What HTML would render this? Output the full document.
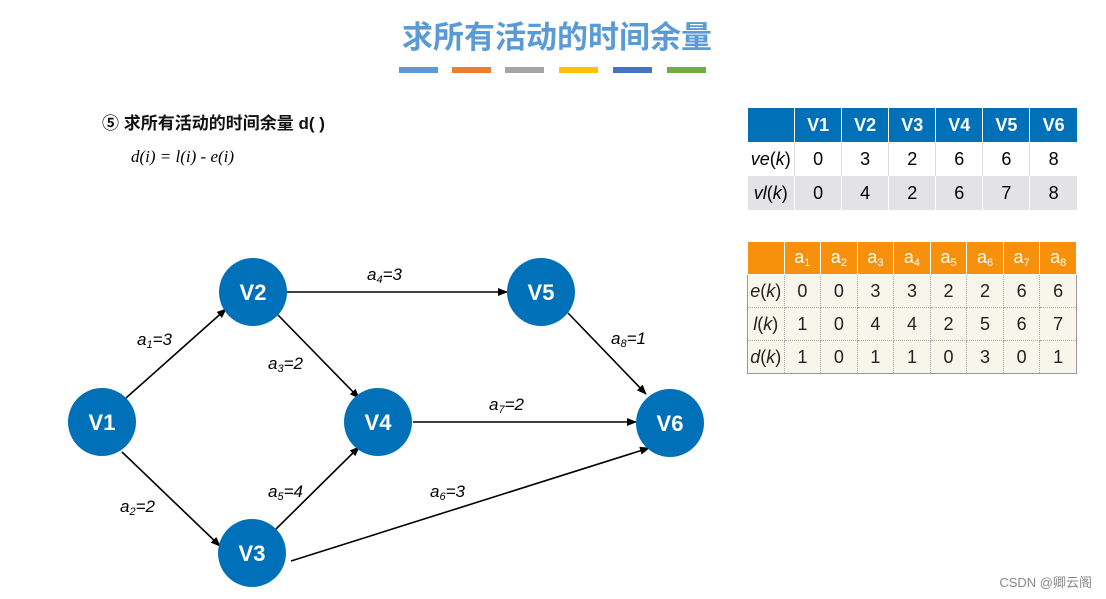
<!DOCTYPE html>
<html><head><meta charset="utf-8"><style>
body{margin:0;width:1106px;height:599px;background:#fff;position:relative;overflow:hidden;font-family:"Liberation Sans","Noto Sans CJK SC",sans-serif}
.t{position:absolute}
table{border-collapse:collapse;position:absolute;font-family:"Liberation Sans",sans-serif;table-layout:fixed}
#t1{width:330px}
#t1 td{height:34px;text-align:center;font-size:18px;padding:0;border-left:1px solid #fff}
#t1 tr.h td{background:#0070b8;color:#fff;font-weight:bold}
#t1 tr.r1 td{background:#fff;border-left:1px solid #ddd}
#t1 tr.r2 td{background:#e3e3e6;border-left:1px solid #fff}
#t2{border:1px solid #999;width:330px}
#t2 td{height:32px;text-align:center;font-size:18px;padding:0;background:#f8f5ea;border:1px dotted #aaa;color:#222}
#t2 tr.h td{background:#f7910c;color:#fff;border:1px solid #fff}
sub{font-size:11px;vertical-align:-3px}
</style></head><body>
<div class="t" style="left:0;width:1114px;top:12px;text-align:center;font-size:31px;font-weight:bold;color:#5b9bd5;">求所有活动的时间余量</div>
<div class="t" style="top:67px;left:399px;width:39px;height:6px;background:#5b9bd5"></div>
<div class="t" style="top:67px;left:452px;width:39px;height:6px;background:#ed7d31"></div>
<div class="t" style="top:67px;left:505px;width:39px;height:6px;background:#a5a5a5"></div>
<div class="t" style="top:67px;left:559px;width:39px;height:6px;background:#ffc000"></div>
<div class="t" style="top:67px;left:613px;width:39px;height:6px;background:#4472c4"></div>
<div class="t" style="top:67px;left:667px;width:39px;height:6px;background:#70ad47"></div>
<div class="t" style="left:102px;top:109px;font-size:17px;font-weight:bold;color:#111">⑤ 求所有活动的时间余量 d( )</div>
<div class="t" style="left:131px;top:147px;font-size:17px;font-style:italic;font-family:'Liberation Serif',serif">d(i) = l(i) - e(i)</div>
<table id="t1" style="left:747px;top:108px">
<tr class="h"><td></td><td>V1</td><td>V2</td><td>V3</td><td>V4</td><td>V5</td><td>V6</td></tr>
<tr class="r1"><td style="border-left:none"><i>ve</i>(<i>k</i>)</td><td>0</td><td>3</td><td>2</td><td>6</td><td>6</td><td>8</td></tr>
<tr class="r2"><td style="border-left:none"><i>vl</i>(<i>k</i>)</td><td>0</td><td>4</td><td>2</td><td>6</td><td>7</td><td>8</td></tr>
</table>
<table id="t2" style="left:747px;top:241px">
<tr class="h"><td></td><td>a<sub>1</sub></td><td>a<sub>2</sub></td><td>a<sub>3</sub></td><td>a<sub>4</sub></td><td>a<sub>5</sub></td><td>a<sub>6</sub></td><td>a<sub>7</sub></td><td>a<sub>8</sub></td></tr>
<tr><td><i>e</i>(<i>k</i>)</td><td>0</td><td>0</td><td>3</td><td>3</td><td>2</td><td>2</td><td>6</td><td>6</td></tr>
<tr><td><i>l</i>(<i>k</i>)</td><td>1</td><td>0</td><td>4</td><td>4</td><td>2</td><td>5</td><td>6</td><td>7</td></tr>
<tr><td><i>d</i>(<i>k</i>)</td><td>1</td><td>0</td><td>1</td><td>1</td><td>0</td><td>3</td><td>0</td><td>1</td></tr>
</table>
<svg class="t" style="left:0;top:0" width="1106" height="599">
<defs><marker id="a" markerWidth="10" markerHeight="8" refX="9" refY="4" orient="auto" markerUnits="userSpaceOnUse"><path d="M0,0 L10,4 L0,8 z" fill="#000"/></marker></defs>
<g stroke="#000" stroke-width="1.6" marker-end="url(#a)">
<line x1="126" y1="398" x2="226" y2="309"/>
<line x1="122" y1="452" x2="220" y2="546"/>
<line x1="278" y1="315" x2="359" y2="398"/>
<line x1="275" y1="530" x2="359" y2="447"/>
<line x1="287" y1="292" x2="507" y2="292"/>
<line x1="413" y1="422" x2="636" y2="422"/>
<line x1="568" y1="313" x2="646" y2="394"/>
<line x1="291" y1="561" x2="649" y2="448"/>
</g>
<g fill="#0070b8">
<circle cx="102" cy="422" r="34"/><circle cx="253" cy="292" r="34"/><circle cx="252" cy="553" r="34"/>
<circle cx="378" cy="422" r="34"/><circle cx="541" cy="292" r="34"/><circle cx="670" cy="423" r="34"/>
</g>
<g fill="#fff" font-size="22" font-weight="bold" text-anchor="middle" font-family="Liberation Sans,sans-serif">
<text x="102" y="430">V1</text><text x="253" y="300">V2</text><text x="252" y="561">V3</text>
<text x="378" y="430">V4</text><text x="541" y="300">V5</text><text x="670" y="431">V6</text>
</g>
<g font-size="17" font-style="italic" font-family="Liberation Sans,sans-serif" fill="#000">
<text x="137" y="345">a<tspan font-size="11" dy="3">1</tspan><tspan dy="-3">=3</tspan></text>
<text x="120" y="512">a<tspan font-size="11" dy="3">2</tspan><tspan dy="-3">=2</tspan></text>
<text x="268" y="369">a<tspan font-size="11" dy="3">3</tspan><tspan dy="-3">=2</tspan></text>
<text x="367" y="280">a<tspan font-size="11" dy="3">4</tspan><tspan dy="-3">=3</tspan></text>
<text x="268" y="497">a<tspan font-size="11" dy="3">5</tspan><tspan dy="-3">=4</tspan></text>
<text x="430" y="497">a<tspan font-size="11" dy="3">6</tspan><tspan dy="-3">=3</tspan></text>
<text x="489" y="410">a<tspan font-size="11" dy="3">7</tspan><tspan dy="-3">=2</tspan></text>
<text x="611" y="344">a<tspan font-size="11" dy="3">8</tspan><tspan dy="-3">=1</tspan></text>
</g>
<text x="1092" y="587" text-anchor="end" font-size="13" fill="#888" font-family="Liberation Sans,Noto Sans CJK SC,sans-serif">CSDN @卿云阁</text>
</svg>
</body></html>
